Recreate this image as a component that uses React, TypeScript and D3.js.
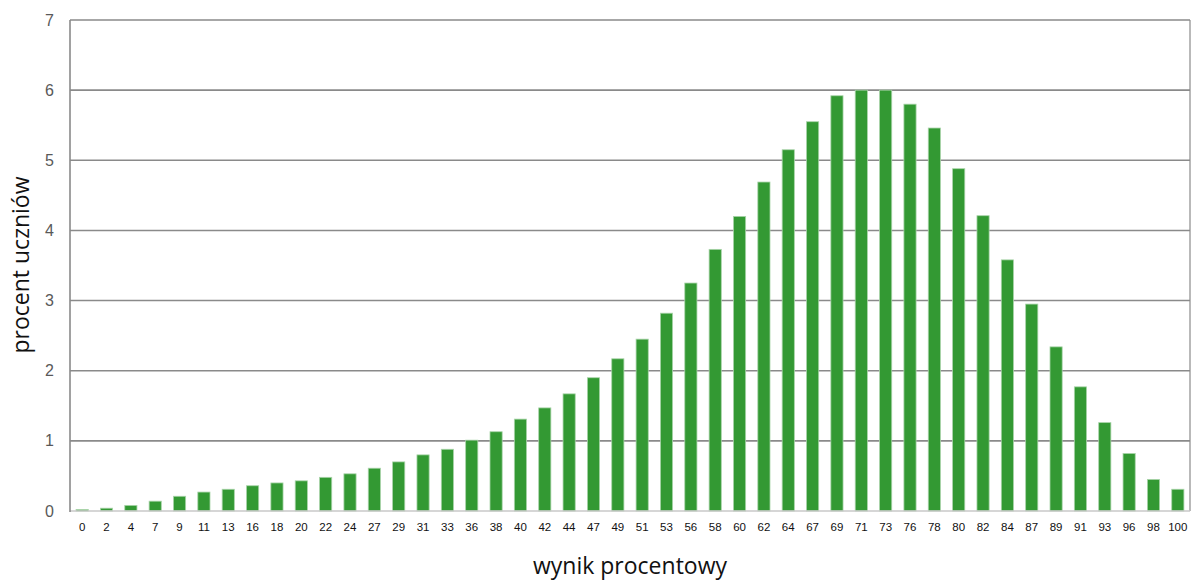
import React from "react";
import * as d3 from "d3";

const categories = ["0","2","4","7","9","11","13","16","18","20","22","24","27","29","31","33","36","38","40","42","44","47","49","51","53","56","58","60","62","64","67","69","71","73","76","78","80","82","84","87","89","91","93","96","98","100"];
const values = [0.02,0.04,0.08,0.14,0.21,0.27,0.31,0.36,0.4,0.43,0.48,0.53,0.61,0.7,0.8,0.88,1.01,1.13,1.31,1.47,1.67,1.9,2.17,2.45,2.82,3.25,3.73,4.2,4.69,5.15,5.55,5.92,6.0,6.0,5.8,5.46,4.88,4.21,3.58,2.95,2.34,1.77,1.26,0.82,0.45,0.31];
const yTicks = [0,1,2,3,4,5,6,7];
const xTitle = "wynik procentowy";
const yTitle = "procent uczniów";

export default function App() {
  const W = 1192, H = 582;
  const left = 70, right = 1190, top = 20, bottom = 511;
  const x = d3.scaleBand<string>().domain(categories).range([left, right]).paddingInner(0.5).paddingOuter(0.25);
  const y = d3.scaleLinear().domain([0, 7]).range([bottom, top]);
  return (
    <svg width={W} height={H} style={{ position: "absolute", left: 0, top: 0, display: "block", background: "#fff" }}>
      {yTicks.map(t => (
        <g key={t}>
          {t > 0 && <line x1={left} x2={right} y1={y(t)} y2={y(t)} stroke="#8a8a8a" strokeWidth={1.6} />}
          <text x={54} y={y(t)} dy="0.35em" textAnchor="end" fontFamily="Liberation Sans, Arial, sans-serif" fontSize={16} fill="#595959">{t}</text>
        </g>
      ))}
      <line x1={right} x2={right} y1={top} y2={bottom} stroke="#8a8a8a" strokeWidth={1.2} />
      {categories.map((c, i) => (
        <rect key={c} x={x(c)} y={y(values[i])} width={x.bandwidth()} height={bottom - y(values[i])} fill="#339933" stroke="#a9d4a9" strokeWidth={0.8} />
      ))}
      <line x1={left} x2={right} y1={bottom} y2={bottom} stroke="#c8c8c8" strokeWidth={1.6} />
      <line x1={left} x2={left} y1={top} y2={bottom + 1} stroke="#8a8a8a" strokeWidth={1.6} />
      {categories.map(c => (
        <text key={c} x={(x(c) as number) + x.bandwidth() / 2} y={531} textAnchor="middle" fontFamily="Liberation Sans, Arial, sans-serif" fontSize={11.5} fill="#111">{c}</text>
      ))}
      <text x={630} y={574} textAnchor="middle" fontFamily="'Open Sans', sans-serif" fontSize={23} fill="#111">{xTitle}</text>
      <text transform={`translate(29,265) rotate(-90)`} textAnchor="middle" fontFamily="'Open Sans', sans-serif" fontSize={23} fill="#111">{yTitle}</text>
    </svg>
  );
}
